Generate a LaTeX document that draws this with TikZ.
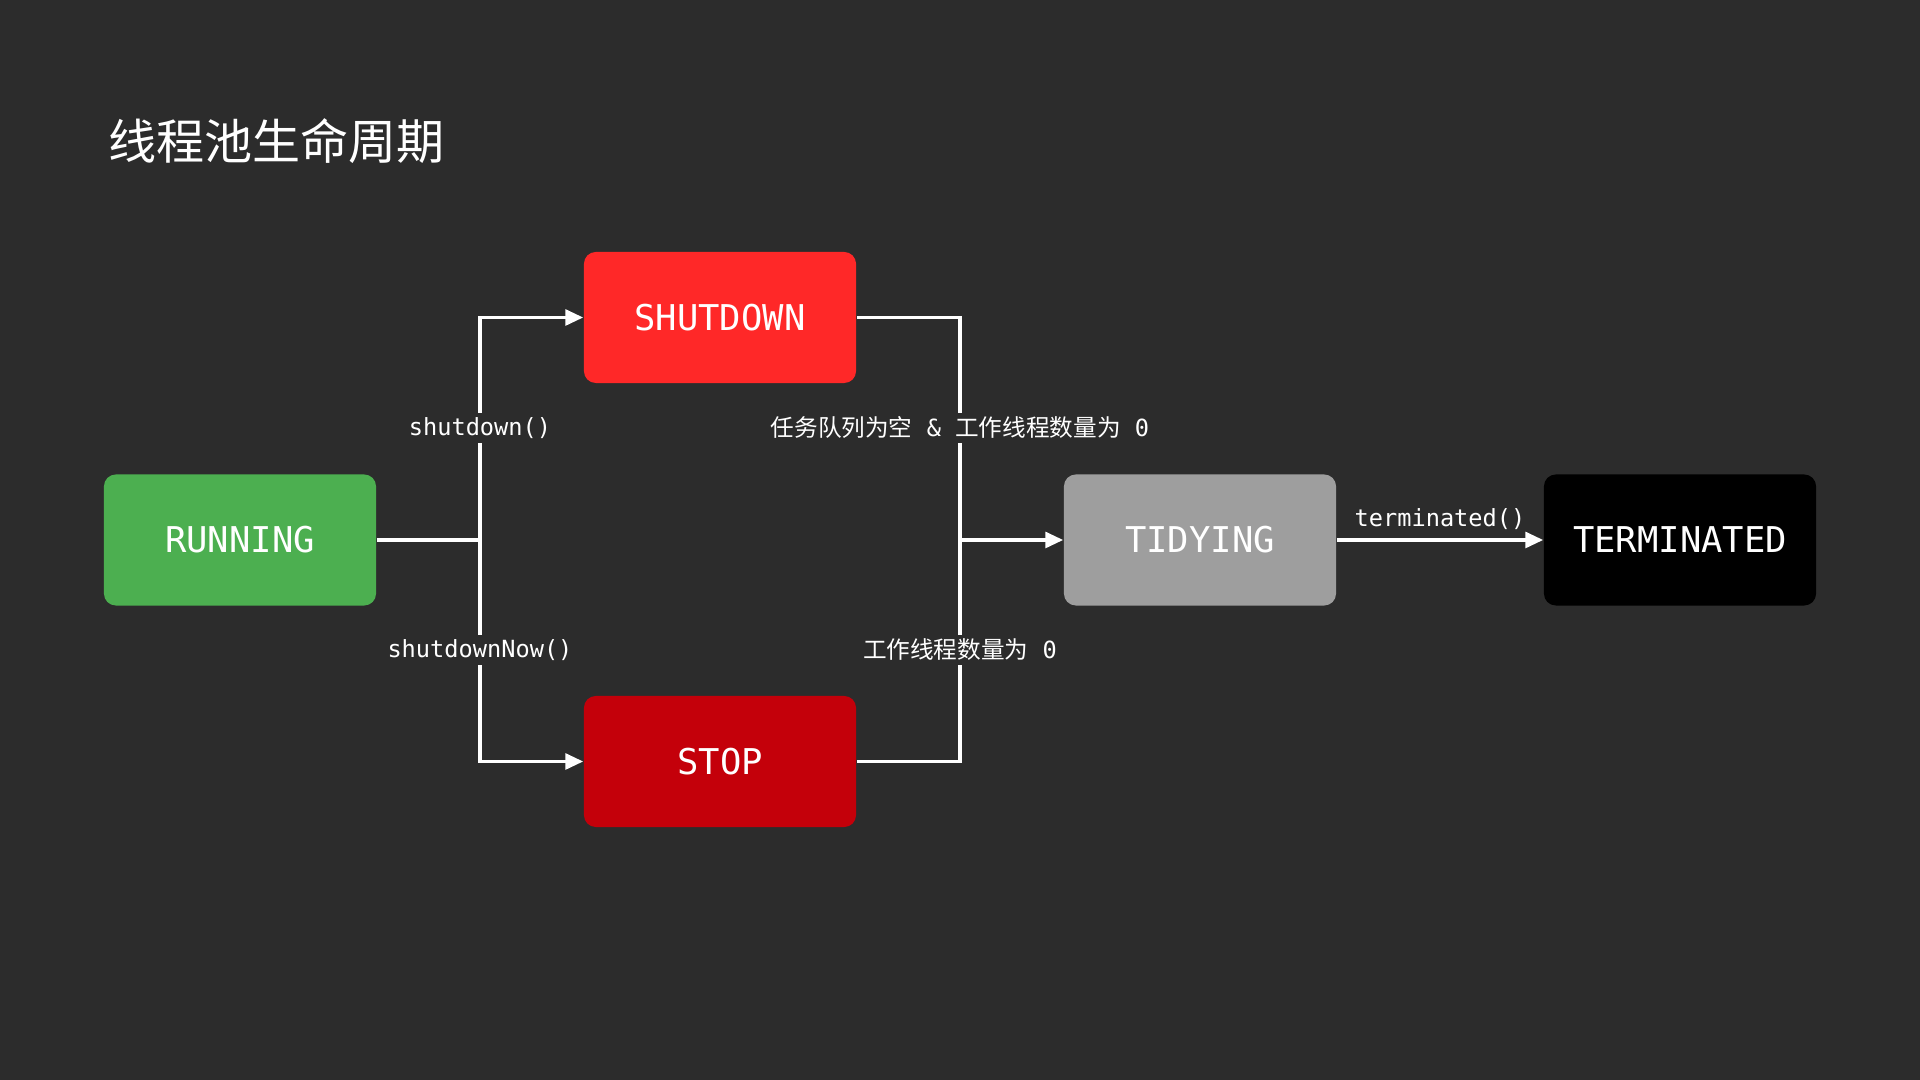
\documentclass[tikz,border=0pt]{standalone}
\usepackage{fontspec}
\setmonofont{DejaVu Sans Mono}
\newfontfamily\cjk{Noto Sans CJK SC}
\usetikzlibrary{arrows.meta}
\definecolor{bg}{HTML}{2C2C2C}
\definecolor{cgreen}{HTML}{4CAF50}
\definecolor{cred}{HTML}{FF2828}
\definecolor{cdark}{HTML}{C4000A}
\definecolor{cgray}{HTML}{9E9E9E}
\definecolor{cblack}{HTML}{000000}
\tikzset{
  state/.style={rectangle, rounded corners=3.4pt, minimum width=2.72cm, minimum height=1.31cm,
    inner sep=0pt, text=white, font=\ttfamily\fontsize{10.1}{12}\selectfont},
  wire/.style={draw=white, line width=1pt},
  arrowwire/.style={wire, -{Triangle[length=5.1pt,width=4.5pt]}},
  lbl/.style={fill=bg, text=white, inner sep=1.2pt, font=\ttfamily\fontsize{6.72}{8}\selectfont},
}
\begin{document}
\begin{tikzpicture}[x=0.01cm,y=-0.01cm]
\fill[bg] (0,0) rectangle (1920,1080);
\useasboundingbox (0,0) rectangle (1920,1080);

\node[anchor=west, text=white, inner sep=0pt, font=\cjk\fontsize{13.66}{16}\selectfont] (title) at (108,141) {线程池生命周期};

\node[state, fill=cgreen] (run) at (240,540) {RUNNING};
\node[state, fill=cred] (sd) at (720,317.5) {SHUTDOWN};
\node[state, fill=cdark] (st) at (720,761.5) {STOP};
\node[state, fill=cgray] (td) at (1200,540) {TIDYING};
\node[state, fill=cblack] (tm) at (1680,540) {TERMINATED};

\coordinate (jl) at (480,540);
\coordinate (jr) at (960,540);

\draw[wire] (run.east) -- (jl);
\draw[arrowwire] (jl) |- (sd.west);
\draw[arrowwire] (jl) |- (st.west);
\draw[wire] (sd.east) -| (jr);
\draw[wire] (st.east) -| (jr);
\draw[arrowwire] (jr) -- (td.west);
\draw[arrowwire] (td.east) -- (tm.west);

\node[lbl] (l1) at (480,428) {shutdown()};
\node[lbl] (l2) at (480,650) {shutdownNow()};
\node[lbl] (l3) at (960,428) {{\cjk 任务队列为空}\texttt{ \& }{\cjk 工作线程数量为}\texttt{ 0}};
\node[lbl] (l4) at (960,650) {{\cjk 工作线程数量为}\texttt{ 0}};
\node[lbl, fill=none] (l5) at (1440,519) {terminated()};
\end{tikzpicture}
\end{document}
